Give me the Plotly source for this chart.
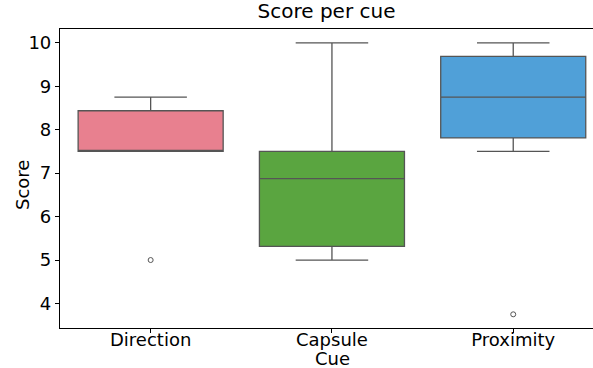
import plotly.graph_objects as go

categories = ["Direction", "Capsule", "Proximity"]
q1 = [7.5, 5.3125, 7.8125]
median = [7.5, 6.875, 8.75]
q3 = [8.4375, 7.5, 9.6875]
lower_fence = [7.5, 5.0, 7.5]
upper_fence = [8.75, 10.0, 10.0]
outlier_cats = ["Direction", "Proximity"]
outlier_vals = [5.0, 3.75]
colors = ["#e8808f", "#5aa540", "#50a0d8"]
y_ticks = [4, 5, 6, 7, 8, 9, 10]

FONT = "DejaVu Sans"
LINE = "#555555"

fig = go.Figure()
for i, c in enumerate(categories):
    fig.add_trace(go.Box(
        x=[c], q1=[q1[i]], median=[median[i]], q3=[q3[i]],
        lowerfence=[lower_fence[i]], upperfence=[upper_fence[i]],
        fillcolor=colors[i], line=dict(color=LINE, width=1.3),
        width=0.8, whiskerwidth=0.5, boxpoints=False, showlegend=False,
        hoverinfo="skip",
    ))

fig.add_trace(go.Scatter(
    x=outlier_cats, y=outlier_vals, mode="markers",
    marker=dict(symbol="circle-open", size=5, color=LINE, line=dict(width=1)),
    showlegend=False,
))

plot_w = 593 - 60
plot_h = 368 - 29 - 40

fig.update_layout(
    width=593, height=368,
    margin=dict(l=60, r=0, t=29, b=40),
    paper_bgcolor="white", plot_bgcolor="white",
    font=dict(family=FONT, size=18, color="black"),
    boxmode="overlay",
    title=dict(text="Score per cue", x=0.5, xref="paper", xanchor="center",
               y=1, yref="container", yanchor="top", pad=dict(t=4),
               font=dict(size=20, family=FONT, color="black")),
    xaxis=dict(
        type="category", categoryorder="array", categoryarray=categories,
        range=[-0.5, 2.44], showline=True, linecolor="black", linewidth=1.2,
        mirror=True, ticks="outside", ticklen=4, tickcolor="black",
        showgrid=False, zeroline=False, ticklabelstandoff=-9,
        tickfont=dict(size=18),
    ),
    yaxis=dict(
        range=[3.435, 10.32], tickvals=y_ticks, showline=True, linecolor="black",
        linewidth=1.2, ticks="outside", ticklen=4, tickcolor="black",
        showgrid=False, zeroline=False,
        tickfont=dict(size=18),
    ),
    annotations=[
        dict(text="Cue", x=(332 - 60) / plot_w, y=(328 - 358) / plot_h,
             xref="paper", yref="paper", yanchor="middle", xanchor="center",
             showarrow=False, font=dict(size=18)),
        dict(text="Score", x=(22 - 60) / plot_w, y=(328 - 185) / plot_h,
             xref="paper", yref="paper", textangle=-90,
             xanchor="center", yanchor="middle", showarrow=False, font=dict(size=18)),
    ],
)

fig.write_html("out.html")
